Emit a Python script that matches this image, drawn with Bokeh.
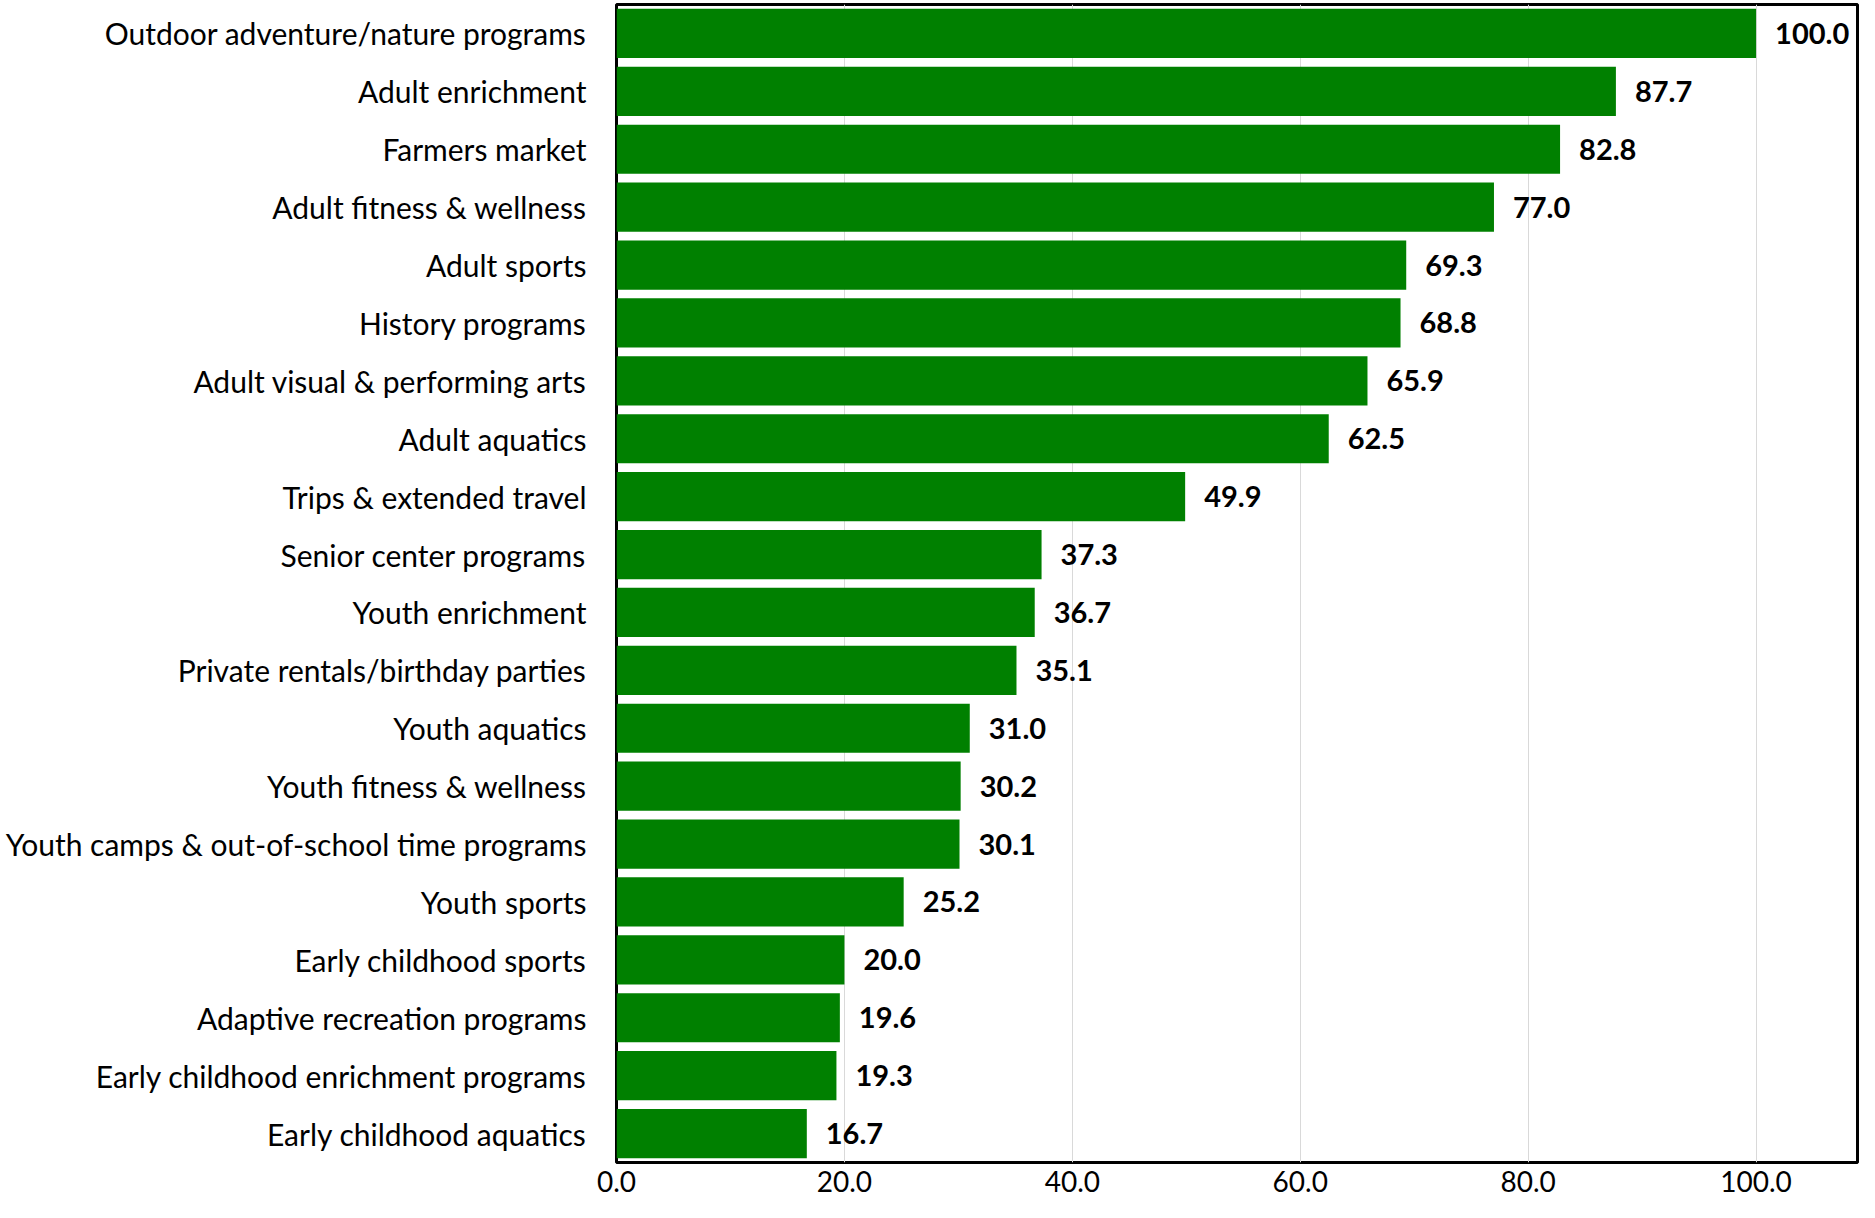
from bokeh.plotting import figure
from bokeh.models import ColumnDataSource, FixedTicker, Range1d, LabelSet
from bokeh.core.properties import value
from bokeh.embed import file_html
from bokeh.resources import INLINE

categories = [
    "Outdoor adventure/nature programs",
    "Adult enrichment",
    "Farmers market",
    "Adult fitness & wellness",
    "Adult sports",
    "History programs",
    "Adult visual & performing arts",
    "Adult aquatics",
    "Trips & extended travel",
    "Senior center programs",
    "Youth enrichment",
    "Private rentals/birthday parties",
    "Youth aquatics",
    "Youth fitness & wellness",
    "Youth camps & out-of-school time programs",
    "Youth sports",
    "Early childhood sports",
    "Adaptive recreation programs",
    "Early childhood enrichment programs",
    "Early childhood aquatics",
]
scores = [100.0, 87.7, 82.8, 77.0, 69.3, 68.8, 65.9, 62.5, 49.9, 37.3,
          36.7, 35.1, 31.0, 30.2, 30.1, 25.2, 20.0, 19.6, 19.3, 16.7]
x_ticks = [0, 20, 40, 60, 80, 100]
x_tick_labels = ["0.0", "20.0", "40.0", "60.0", "80.0", "100.0"]

FONT = "Lato"
GREEN = "#008000"

source = ColumnDataSource(dict(
    cat=categories,
    val=scores,
    lab=["%.1f" % v for v in scores],
))

p = figure(
    y_range=list(reversed(categories)),
    x_range=Range1d(0, 108.9),
    width=1859, height=1202,
    output_backend="svg", toolbar_location=None,
    min_border_left=616, min_border_right=2,
    min_border_top=4, min_border_bottom=40,
)

p.hbar(y="cat", right="val", left=0, height=0.85, source=source,
       fill_color=GREEN, line_color=None)

labels = LabelSet(x="val", y="cat", text="lab", source=source,
                  x_offset=19, text_baseline="middle", text_align="left",
                  text_font=value(FONT), text_font_style="bold",
                  text_font_size="29px", text_color="black")
p.add_layout(labels)

p.outline_line_color = "black"
p.outline_line_width = 3
p.outline_line_alpha = 1.0

p.xaxis.ticker = FixedTicker(ticks=x_ticks)
p.xaxis.major_label_overrides = {t: l for t, l in zip(x_ticks, x_tick_labels)}
p.xaxis.axis_line_color = None
p.xaxis.major_tick_line_color = None
p.xaxis.minor_tick_line_color = None
p.xaxis.major_tick_in = 0
p.xaxis.major_tick_out = 0
p.xaxis.major_label_text_font = FONT
p.xaxis.major_label_text_font_size = "28px"
p.xaxis.major_label_text_color = "black"
p.xaxis.major_label_standoff = 8

p.yaxis.axis_line_color = None
p.yaxis.major_tick_line_color = None
p.yaxis.minor_tick_line_color = None
p.yaxis.major_tick_in = 0
p.yaxis.major_tick_out = 0
p.yaxis.major_label_text_font = FONT
p.yaxis.major_label_text_font_size = "30px"
p.yaxis.major_label_text_color = "black"
p.yaxis.major_label_standoff = 30

p.xgrid.grid_line_color = "#d9d9d9"
p.xgrid.grid_line_width = 1
p.ygrid.grid_line_color = None
p.y_range.range_padding = 0.0

open("out.html", "w").write(file_html(p, INLINE))
